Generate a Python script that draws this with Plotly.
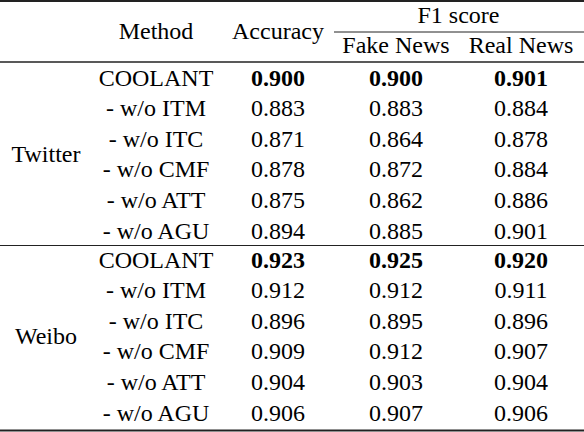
import plotly.graph_objects as go

# table contents
groups = ['Twitter', 'Weibo']
methods = ['COOLANT', '- w/o ITM', '- w/o ITC', '- w/o CMF', '- w/o ATT', '- w/o AGU']
accuracy = {
    'Twitter': [0.900, 0.883, 0.871, 0.878, 0.875, 0.894],
    'Weibo': [0.923, 0.912, 0.896, 0.909, 0.904, 0.906],
}
f1_fake = {
    'Twitter': [0.900, 0.883, 0.864, 0.872, 0.862, 0.885],
    'Weibo': [0.925, 0.912, 0.895, 0.912, 0.903, 0.907],
}
f1_real = {
    'Twitter': [0.901, 0.884, 0.878, 0.884, 0.886, 0.901],
    'Weibo': [0.920, 0.911, 0.896, 0.907, 0.904, 0.906],
}

W, H = 584, 432

# column centres and row layout (pixels)
x_group, x_method, x_acc, x_fake, x_real = 46, 156, 278, 396, 521
row0 = {'Twitter': 79.5, 'Weibo': 261.5}
row_step = 30.6

fig = go.Figure()

def add_text(xs, ys, texts):
    fig.add_trace(go.Scatter(x=xs, y=ys, text=texts, mode='text',
                             textposition='middle center',
                             textfont=dict(family='Liberation Serif', size=24),
                             showlegend=False))

# header
add_text([x_method, x_acc, (x_fake + x_real) / 2, x_fake, x_real],
         [32.5, 32.5, 16.5, 47, 47],
         ['Method', 'Accuracy', 'F1 score', 'Fake News', 'Real News'])

def fmt(v, best):
    s = '%.3f' % v
    return '<b>%s</b>' % s if best else s

for g in groups:
    ys = [row0[g] + i * row_step for i in range(len(methods))]
    add_text([x_group], [(ys[0] + ys[-1]) / 2], [g])
    add_text([x_method] * len(methods), ys, methods)
    for xc, vals in [(x_acc, accuracy[g]), (x_fake, f1_fake[g]), (x_real, f1_real[g])]:
        add_text([xc] * len(vals), ys, [fmt(v, i == 0) for i, v in enumerate(vals)])

# rules
def hline(y, x0, x1, w):
    fig.add_shape(type='line', x0=x0, x1=x1, y0=y, y1=y,
                  line=dict(color='#222222', width=w))

hline(1, 0, W, 2)
hline(32, 334, W, 1)
hline(62, 0, W, 1.5)
hline(245.5, 0, W, 1)
hline(430.5, 0, W, 2)

fig.update_layout(
    width=W, height=H, margin=dict(l=0, r=0, t=0, b=0),
    font=dict(family='Liberation Serif', color='black'),
    paper_bgcolor='white', plot_bgcolor='white', hovermode=False,
    xaxis=dict(range=[0, W], visible=False, fixedrange=True),
    yaxis=dict(range=[H, 0], visible=False, fixedrange=True),
)

# page body has a default 8px margin, drop it so the figure fills the window
fig.write_html("out.html", config={'displayModeBar': False},
               post_script="document.body.style.margin='0';")
